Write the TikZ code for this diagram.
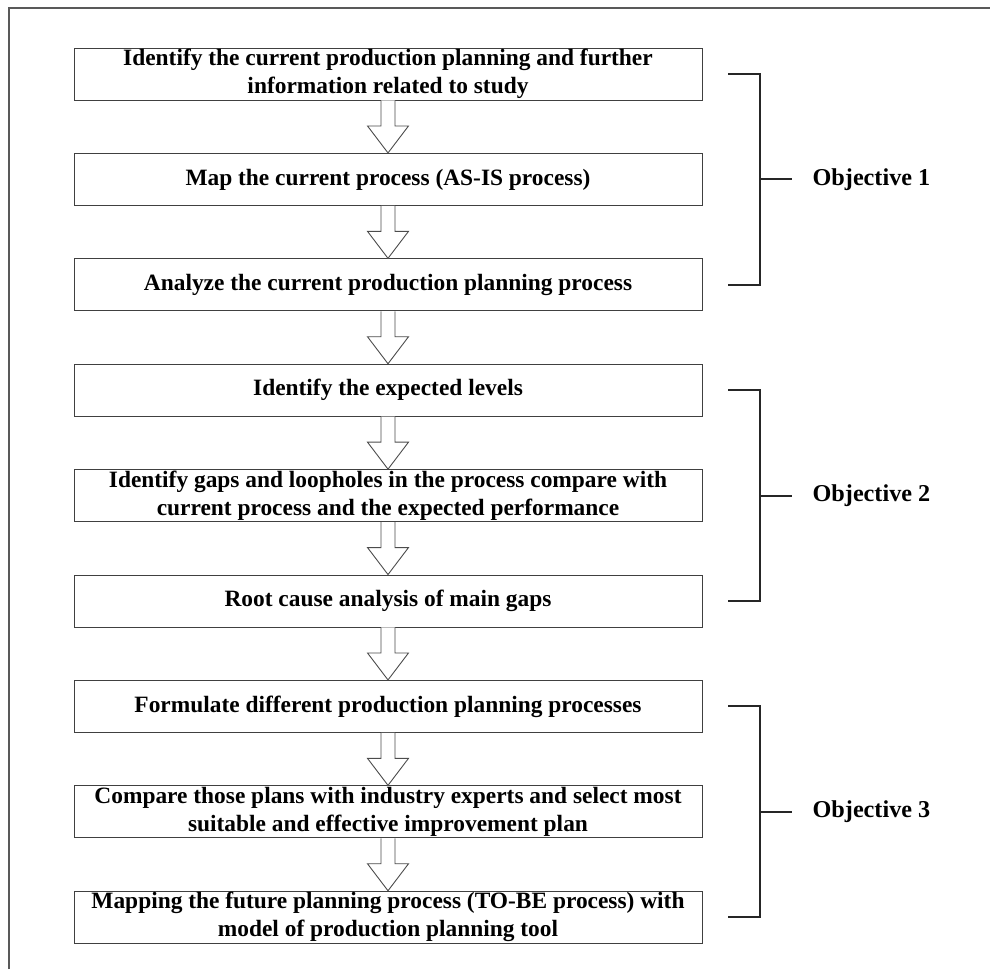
\documentclass[tikz,border=0pt]{standalone}
\usepackage{fontspec}
\setmainfont{Liberation Serif}
\usetikzlibrary{positioning, calc}
\tikzset{
    stepbox/.style={draw=black!75, line width=0.9pt, rectangle, minimum width=628pt, minimum height=52pt, inner sep=0pt, align=center, font=\fontsize{23.4}{28}\selectfont\bfseries},
    hollow/.style={draw=black!70, line width=0.9pt, fill=white, line join=miter},
    bracket/.style={draw=black!85, line width=2pt},
    objective/.style={anchor=west, inner sep=0pt, font=\fontsize{24.2}{28}\selectfont\bfseries},
    frame/.style={draw=black!65, line width=1.5pt}
}

\begin{document}
\begin{tikzpicture}[x=1pt, y=1pt, node distance=52.5pt]
    \useasboundingbox (0,0) rectangle (990,-969);
    \draw [frame] (9,-969) -- (9,-8) -- (990,-8);

    \node [stepbox] (s1) at (388,-74) {Identify the current production planning and further\\information related to study};
    \node [stepbox, below=of s1] (s2) {Map the current process (AS-IS process)};
    \node [stepbox, below=of s2] (s3) {Analyze the current production planning process};
    \node [stepbox, below=of s3] (s4) {Identify the expected levels};
    \node [stepbox, below=of s4] (s5) {Identify gaps and loopholes in the process compare with\\current process and the expected performance};
    \node [stepbox, below=of s5] (s6) {Root cause analysis of main gaps};
    \node [stepbox, below=of s6] (s7) {Formulate different production planning processes};
    \node [stepbox, below=of s7] (s8) {Compare those plans with industry experts and select most\\suitable and effective improvement plan};
    \node [stepbox, below=of s8] (s9) {Mapping the future planning process (TO-BE process) with\\model of production planning tool};

    % hollow block arrows between the steps
    \foreach \a/\b in {s1/s2, s2/s3, s3/s4, s4/s5, s5/s6, s6/s7, s7/s8, s8/s9} {
        \draw [hollow] ($(\a.south)+(-7,0)$) -- ($(\b.north)+(-7,27)$) -- ($(\b.north)+(-20.5,27)$)
            -- (\b.north) -- ($(\b.north)+(20.5,27)$) -- ($(\b.north)+(7,27)$) -- ($(\a.south)+(7,0)$);
    }

    % objectives
    \node [objective] (o1) at ($(s2.east)+(110,0)$) {Objective 1};
    \node [objective] (o2) at ($(s5.east)+(110,0)$) {Objective 2};
    \node [objective] (o3) at ($(s8.east)+(110,0)$) {Objective 3};

    \draw [bracket] ($(s1.east)+(26,0)$) -- ++(32,0) |- ($(s3.east)+(26,0)$);
    \draw [bracket] ($(s2.east)+(58,0)$) -- ($(o1.west)+(-20,0)$);
    \draw [bracket] ($(s4.east)+(26,0)$) -- ++(32,0) |- ($(s6.east)+(26,0)$);
    \draw [bracket] ($(s5.east)+(58,0)$) -- ($(o2.west)+(-20,0)$);
    \draw [bracket] ($(s7.east)+(26,0)$) -- ++(32,0) |- ($(s9.east)+(26,0)$);
    \draw [bracket] ($(s8.east)+(58,0)$) -- ($(o3.west)+(-20,0)$);
\end{tikzpicture}
\end{document}
